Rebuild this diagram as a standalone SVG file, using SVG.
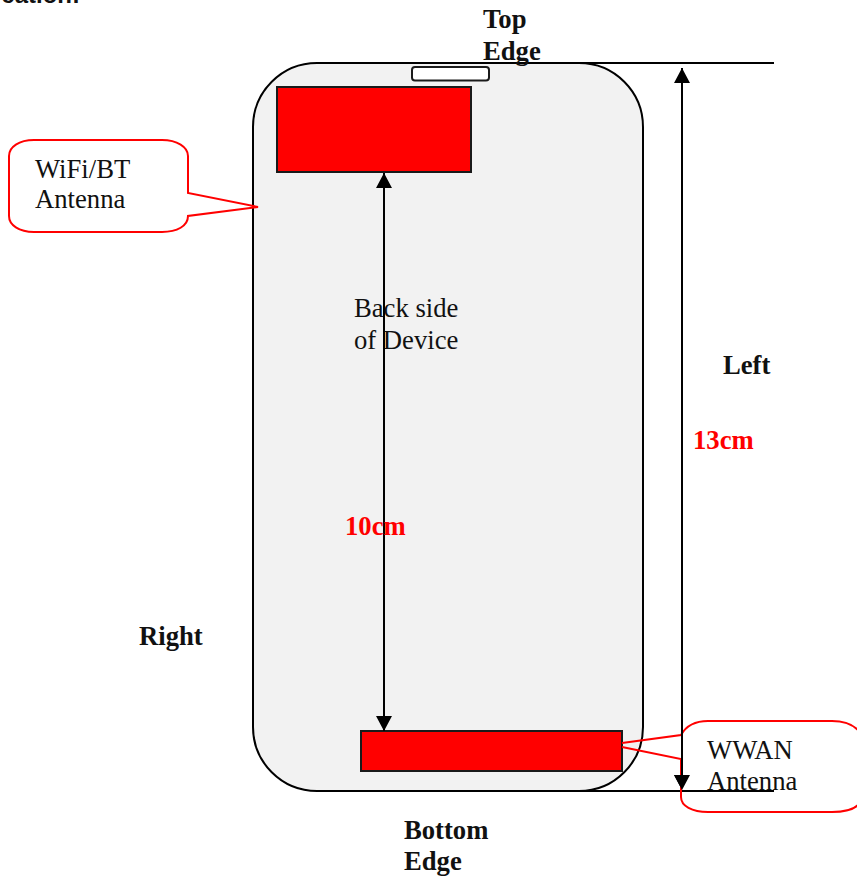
<svg xmlns="http://www.w3.org/2000/svg" width="857" height="876" viewBox="0 0 857 876">
<style>
text{font-family:"Liberation Serif","Times New Roman",serif;font-size:26.67px;fill:#111}
.b{font-weight:bold}
.r{fill:#f00}
.ant{fill:#f00;stroke:#1a1a1a;stroke-width:2}
.call{fill:#fff;stroke:#f00;stroke-width:2;stroke-linejoin:miter}
.ln{fill:none;stroke:#000;stroke-width:2}
</style>
<defs>
<marker id="ah" markerUnits="userSpaceOnUse" markerWidth="16" markerHeight="16" refX="15" refY="8" orient="auto-start-reverse"><path d="M0 0L15 8L0 16Z" fill="#000"/></marker>
</defs>
<text class="b" x="80" y="3" text-anchor="end" style="font-family:'Liberation Sans',Arial,sans-serif;font-size:24px">cation:</text>
<g id="device">
<rect x="253" y="63" width="390" height="728" rx="64" ry="64" fill="#f2f2f2" stroke="#000" stroke-width="2"/>
<text x="354" y="317">Back side</text>
<text x="354" y="349">of Device</text>
</g>
<g id="speaker"><rect x="412" y="67" width="77" height="13.500" rx="3" fill="#fff" stroke="#1a1a1a" stroke-width="2"/></g>
<g id="wifi-block"><rect class="ant" x="277" y="87" width="194" height="85"/></g>
<g id="wwan-block"><rect class="ant" x="361" y="731" width="261" height="40"/></g>
<g id="connectors">
<line class="ln" x1="553" y1="63" x2="774" y2="63"/>
<line class="ln" x1="553" y1="791" x2="774" y2="791"/>
<line class="ln" x1="682" y1="68" x2="682" y2="790" marker-start="url(#ah)" marker-end="url(#ah)"/>
<line class="ln" x1="384" y1="173" x2="384" y2="731" marker-start="url(#ah)" marker-end="url(#ah)"/>
</g>
<g id="wifi-callout">
<path class="call" d="M34 140H162C177 140 188 147 188 156V193L258 207L188 216C188 226 177 232 162 232H34C19 232 9 225 9 216V156C9 147 19 140 34 140Z"/>
<text x="35" y="178">WiFi/BT</text>
<text x="35" y="208">Antenna</text>
</g>
<g id="wwan-callout">
<path d="M681 735C686 726 696 721 708 721H832C845 721 853 725 858 730V805C853 810 845 812 832 812H708C692 812 681 806 681 797Z" fill="#fff" stroke="none"/>
<path class="call" style="fill:none" d="M858 730C853 725 845 721 832 721H708C696 721 686 726 681 735L622 743M622 747L681 759V797C681 806 692 812 708 812H832C845 812 853 810 858 805"/>
<line x1="682" y1="721" x2="682" y2="782" class="ln"/>
<path d="M674 775L690 775L682 790Z" fill="#000"/>
<text x="707" y="759">WWAN</text>
<text x="707" y="790">Antenna</text>
<line class="ln" x1="682" y1="791" x2="774" y2="791"/>
</g>
<g id="labels">
<text class="b" x="483" y="28">Top</text>
<text class="b" x="483" y="60">Edge</text>
<text class="b" x="723" y="374">Left</text>
<text class="b" x="139" y="645">Right</text>
<text class="b" x="404" y="839">Bottom</text>
<text class="b" x="404" y="870">Edge</text>
<text class="b r" x="693" y="449">13cm</text>
<text class="b r" x="345" y="535">10cm</text>
</g>
</svg>
